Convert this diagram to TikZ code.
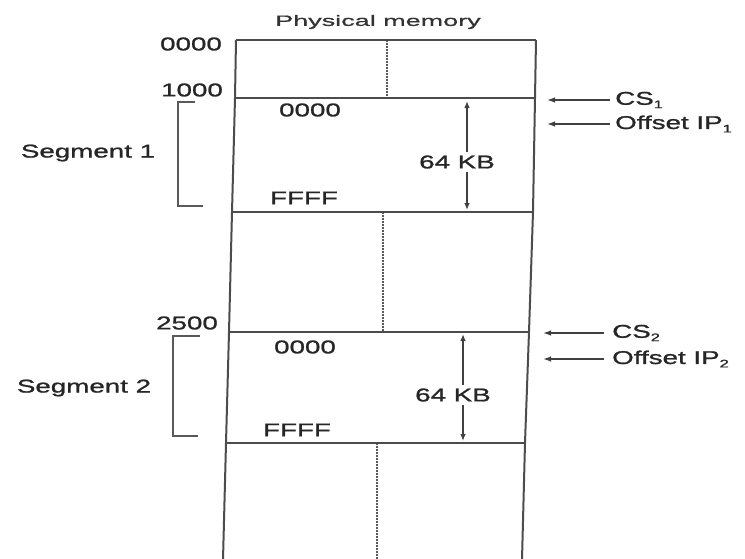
\documentclass[tikz,border=0pt]{standalone}
\usepackage{fontspec}
\setmainfont{Liberation Sans}
\newfontfamily\lbl[FakeStretch=1.5,FakeBold=1.2]{Liberation Sans}
\newfontfamily\lblsm[FakeStretch=1.8,FakeBold=0.8]{Liberation Sans}
\usetikzlibrary{arrows.meta}
\begin{document}
\begin{tikzpicture}[x=1pt,y=-1pt,
  edge/.style={draw=black!70, line width=2pt},
  dotline/.style={draw=black!65, line width=1.5pt, dash pattern=on 1.5pt off 1.5pt},
  brack/.style={draw=black!65, line width=1.4pt},
  txt/.style={font=\lbl\fontsize{18.5}{18.5}\selectfont, text=black!85, inner sep=0pt},
  title/.style={font=\lblsm\fontsize{15}{15}\selectfont, text=black!80, inner sep=0pt},
  dimarr/.style={draw=black!75, line width=1.3pt, {Latex[length=7pt,width=5.5pt]}-{Latex[length=7pt,width=5.5pt]}},
  ptr/.style={draw=black!75, line width=1.4pt, -{Latex[length=8pt,width=5.5pt]}}
]
\useasboundingbox[fill=white] (0,0) rectangle (745,558);

% box corners
\coordinate (tl) at (236,40);  \coordinate (tr) at (536,40);
\coordinate (al) at (235,98);  \coordinate (ar) at (535,98);
\coordinate (bl) at (232,212); \coordinate (br) at (533,212);
\coordinate (cl) at (229,332); \coordinate (cr) at (529,332);
\coordinate (dl) at (226,443); \coordinate (dr) at (525,443);
\coordinate (el) at (223,560); \coordinate (er) at (522,560);

% dotted dividers
\draw[dotline] (387,40) -- (387,98);
\draw[dotline] (383,212) -- (383,332);
\draw[dotline] (377,443) -- (377,560);

% box
\draw[edge] (tl) -- (al) -- (bl) -- (cl) -- (dl) -- (el);
\draw[edge] (tr) -- (ar) -- (br) -- (cr) -- (dr) -- (er);
\draw[edge] (tl) -- (tr);
\draw[edge] (al) -- (ar);
\draw[edge] (bl) -- (br);
\draw[edge] (cl) -- (cr);
\draw[edge] (dl) -- (dr);

% title and addresses
\node[title] (phys) at (378,22) {Physical memory};
\node[txt] (a0000) at (191,44) {0000};
\node[txt] (a1000) at (192,90) {1000};
\node[txt] (a2500) at (187,323) {2500};

% inner labels
\node[txt] (s1lo) at (310,110) {0000};
\node[txt] (s1hi) at (304,198) {FFFF};
\node[txt] (s2lo) at (305,347) {0000};
\node[txt] (s2hi) at (297,430) {FFFF};

% 64 KB dimension arrows
\coordinate (k1t) at (467,101); \coordinate (k1b) at (467,210);
\draw[dimarr] (k1t) -- (k1b);
\node[txt, fill=white, inner sep=3pt] (k1) at (457,162) {64 KB};
\coordinate (k2t) at (463,334); \coordinate (k2b) at (463,441);
\draw[dimarr] (k2t) -- (k2b);
\node[txt, fill=white, inner sep=3pt] (k2) at (453,395) {64 KB};

% segment brackets
\coordinate (g1a) at (195,102); \coordinate (g1b) at (178,102);
\coordinate (g1c) at (178,206); \coordinate (g1d) at (203,206);
\draw[brack] (g1a) -- (g1b) -- (g1c) -- (g1d);
\node[txt] (seg1) at (88,153) {Segment 1};
\coordinate (g2a) at (200,336); \coordinate (g2b) at (173,336);
\coordinate (g2c) at (173,436); \coordinate (g2d) at (198,436);
\draw[brack] (g2a) -- (g2b) -- (g2c) -- (g2d);
\node[txt] (seg2) at (84,388) {Segment 2};

% pointers on the right
\node[txt, anchor=west] (cs1) at (615,100) {CS\raisebox{-0.35ex}{\fontsize{11}{11}\selectfont 1}};
\node[txt, anchor=west] (ip1) at (615,124) {Offset IP\raisebox{-0.35ex}{\fontsize{11}{11}\selectfont 1}};
\node[txt, anchor=west] (cs2) at (612,333) {CS\raisebox{-0.35ex}{\fontsize{11}{11}\selectfont 2}};
\node[txt, anchor=west] (ip2) at (612,359) {Offset IP\raisebox{-0.35ex}{\fontsize{11}{11}\selectfont 2}};
\coordinate (p1) at (547,100);
\coordinate (p2) at (547,124);
\coordinate (p3) at (543,333);
\coordinate (p4) at (543,359);
\draw[ptr] ([xshift=-5pt]cs1.west) -- (p1);
\draw[ptr] ([xshift=-5pt]ip1.west) -- (p2);
\draw[ptr] ([xshift=-8pt]cs2.west) -- (p3);
\draw[ptr] ([xshift=-8pt]ip2.west) -- (p4);
\end{tikzpicture}
\end{document}
